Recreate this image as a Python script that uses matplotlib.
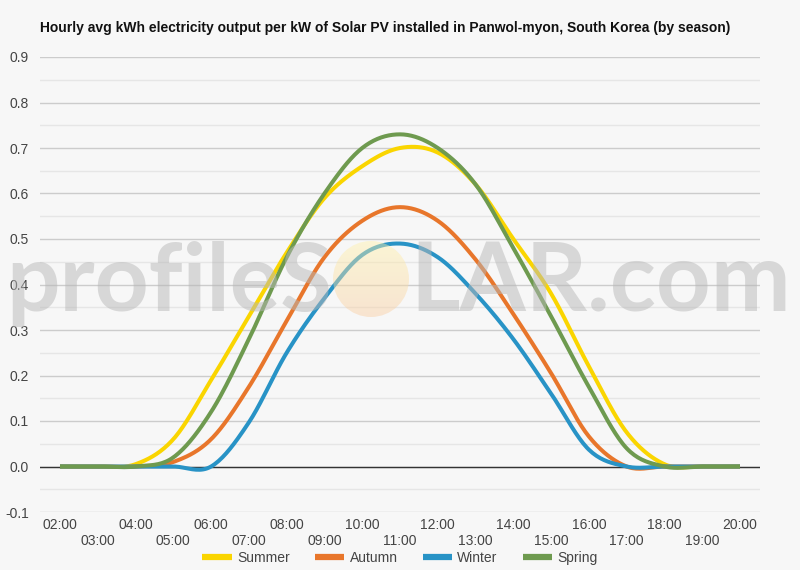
import numpy as np
import matplotlib
matplotlib.use('Agg')
import matplotlib.pyplot as plt
from matplotlib.ticker import FixedLocator, FixedFormatter, MultipleLocator
from matplotlib.patches import Circle

hours = list(range(2, 21))
hour_labels = ['%02d:00' % h for h in hours]

summer = [0, 0, 0.005, 0.06, 0.19, 0.33, 0.47, 0.59, 0.66, 0.70, 0.69, 0.62,
          0.50, 0.38, 0.22, 0.075, 0.005, 0, 0]
autumn = [0, 0, 0, 0.01, 0.06, 0.175, 0.32, 0.46, 0.54, 0.57, 0.54, 0.455,
          0.335, 0.205, 0.066, 0, 0, 0, 0]
winter = [0, 0, 0, 0, 0, 0.097, 0.25, 0.37, 0.465, 0.49, 0.46, 0.38,
          0.28, 0.16, 0.037, 0, 0, 0, 0]
spring = [0, 0, 0, 0.02, 0.12, 0.28, 0.46, 0.60, 0.70, 0.73, 0.70, 0.62,
          0.48, 0.33, 0.175, 0.04, 0, 0, 0]

series = [('Summer', summer, '#FAD500'),
          ('Autumn', autumn, '#E8762B'),
          ('Winter', winter, '#2893C6'),
          ('Spring', spring, '#6E9A4F')]

title = 'Hourly avg kWh electricity output per kW of Solar PV installed in Panwol-myon, South Korea (by season)'


def smooth(x, y, n=20):
    # catmull-rom, like the curved lines of the original chart
    x = np.asarray(x, float)
    y = np.asarray(y, float)
    m = np.zeros_like(y)
    m[1:-1] = (y[2:] - y[:-2]) / 2
    xs, ys = [], []
    for i in range(len(x) - 1):
        t = np.linspace(0, 1, n, endpoint=False)
        h00 = 2 * t**3 - 3 * t**2 + 1
        h10 = t**3 - 2 * t**2 + t
        h01 = -2 * t**3 + 3 * t**2
        h11 = t**3 - t**2
        xs.append(x[i] + t * (x[i + 1] - x[i]))
        ys.append(h00 * y[i] + h10 * m[i] + h01 * y[i + 1] + h11 * m[i + 1])
    xs.append([x[-1]])
    ys.append([y[-1]])
    return np.concatenate(xs), np.concatenate(ys)


plt.rcParams['font.family'] = ['Liberation Sans', 'DejaVu Sans']
bg = '#f7f7f7'
W, H = 800, 570
fig = plt.figure(figsize=(8, 5.7), dpi=100, facecolor=bg)
ax = fig.add_axes([40 / W, 1 - 512 / H, 720 / W, 455 / H])
ax.set_facecolor(bg)

lines = []
for name, vals, col in series:
    sx, sy = smooth(hours, vals)
    ln, = ax.plot(sx, sy, color=col, lw=2.9, label=name, zorder=3,
                  solid_capstyle='butt')
    lines.append(ln)

ax.set_xlim(2 - 20 / 37.78, 20 + 20 / 37.78)
ax.set_ylim(-0.1, 0.9)
ax.yaxis.set_major_locator(MultipleLocator(0.1))
ax.yaxis.set_minor_locator(MultipleLocator(0.05))
ax.yaxis.set_major_formatter(matplotlib.ticker.FuncFormatter(lambda v, p: '%.1f' % v))
ax.grid(axis='y', which='major', color='#cccccc', lw=1)
ax.grid(axis='y', which='minor', color='#e6e6e6', lw=1)
ax.axhline(0, color='#333333', lw=1, zorder=2)
ax.set_axisbelow(True)

even = [h for h in hours if h % 2 == 0]
odd = [h for h in hours if h % 2 == 1]
ax.xaxis.set_major_locator(FixedLocator(even))
ax.xaxis.set_major_formatter(FixedFormatter([hour_labels[hours.index(h)] for h in even]))
ax.xaxis.set_minor_locator(FixedLocator(odd))
ax.xaxis.set_minor_formatter(FixedFormatter([hour_labels[hours.index(h)] for h in odd]))
ax.tick_params(axis='x', which='major', length=0, pad=4, labelsize=10, labelcolor='#444444')
ax.tick_params(axis='x', which='minor', length=0, pad=16, labelsize=10, labelcolor='#444444')
ax.tick_params(axis='y', which='both', length=0, pad=8, labelsize=10, labelcolor='#444444')
for s in ax.spines.values():
    s.set_visible(False)

fig.text(40 / W, 1 - 28 / H, title, fontsize=10, fontweight='bold', va='center',
         ha='left', color='#111111')

fig.legend(handles=lines, loc='center', bbox_to_anchor=(0.5, 1 - 558 / H), ncol=4,
           frameon=False, fontsize=10, handlelength=2.1, handletextpad=0.4,
           columnspacing=1.8, labelcolor='#444444')
for h in fig.legends[0].legend_handles:
    h.set_linewidth(4.5)

# watermark, sized to fit the spans seen in the picture
wm = dict(fontsize=50, fontweight='bold', color='#b8b8b8', alpha=0.5,
          va='baseline', zorder=10, family='Lato')
t1 = fig.text(332 / W, 1 - 311 / H, 'profileS', ha='right', **wm)
t2 = fig.text(410 / W, 1 - 311 / H, 'LAR.com', ha='left', **wm)
r = fig.canvas.get_renderer()
for t, span in ((t1, 327), (t2, 381)):
    w = t.get_window_extent(r).width
    t.set_fontsize(50 * span / w)

sun_ax = fig.add_axes([333 / W, 1 - 317 / H, 76 / W, 76 / H], zorder=11)
sun_ax.set_axis_off()
grad = np.linspace(0, 1, 64)[:, None]
cols = np.array([255, 242, 170]) * (1 - grad[..., None]) + np.array([250, 205, 160]) * grad[..., None]
im = sun_ax.imshow(np.repeat(cols, 2, axis=1) / 255, extent=[0, 1, 0, 1], origin='upper',
                   alpha=0.45, aspect='auto')
sun_ax.set_xlim(0, 1)
sun_ax.set_ylim(0, 1)
im.set_clip_path(Circle((0.5, 0.5), 0.5, transform=sun_ax.transData))
sun_ax.patch.set_alpha(0)

fig.savefig('out.png', dpi=100, facecolor=bg)
